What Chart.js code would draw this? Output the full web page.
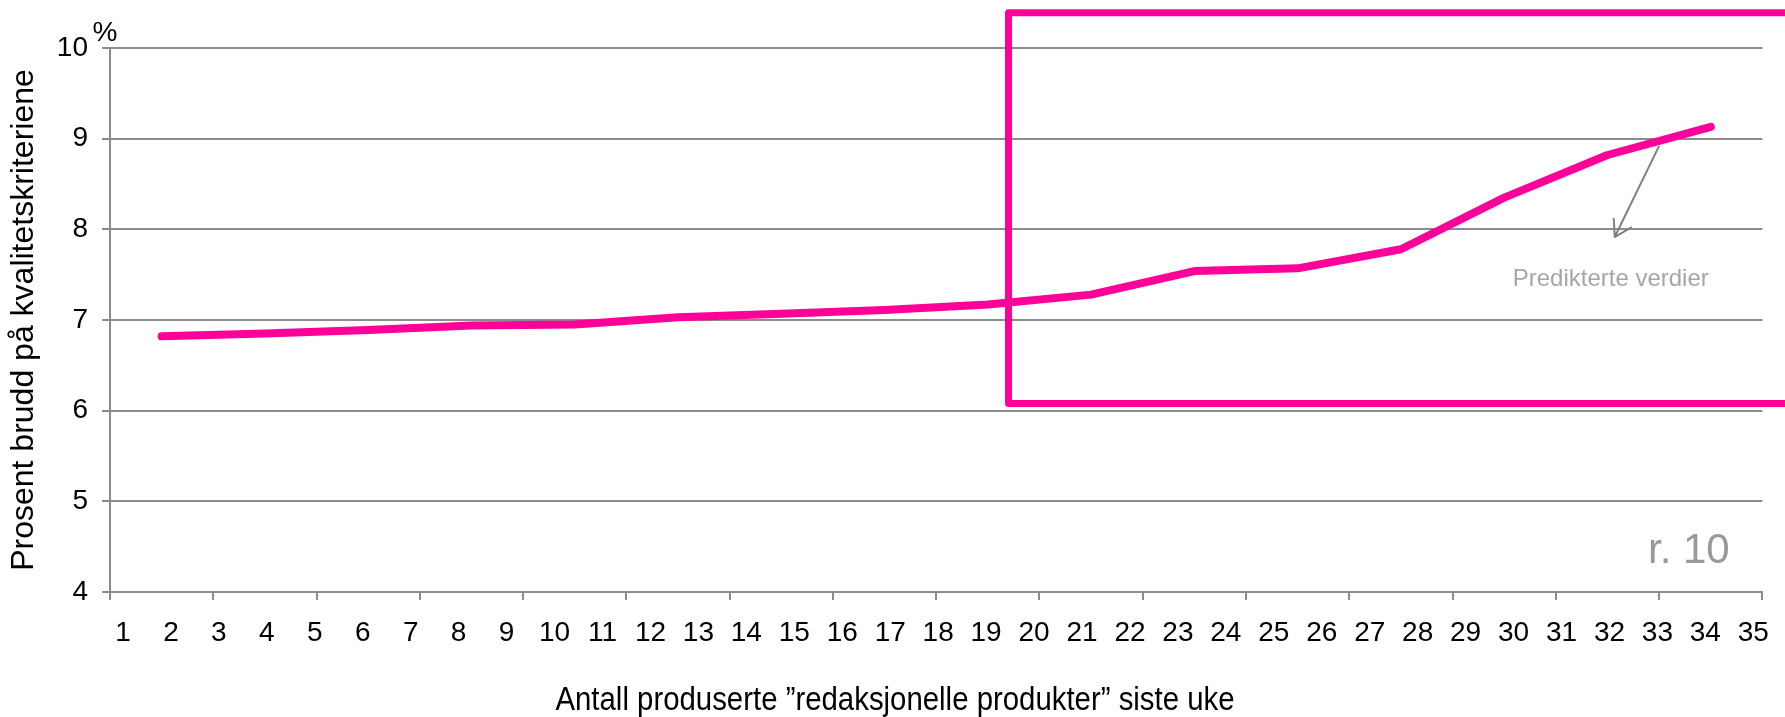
<!DOCTYPE html>
<html>
<head>
<meta charset="utf-8">
<script src="https://cdn.jsdelivr.net/npm/chart.js@4.4.1/dist/chart.umd.min.js"></script>
<style>
  html, body { margin: 0; padding: 0; background: #fff; }
  canvas { display: block; }
</style>
</head>
<body>
<canvas id="chart" width="1785" height="717"></canvas>
<script>
// 16 measured points, one per category slot on the axis
var points = ['1', '2', '3', '4', '5', '6', '7', '8', '9', '10', '11', '12', '13', '14', '15', '16'];
var brudd = [6.82, 6.85, 6.89, 6.94, 6.95, 7.03, 7.07, 7.11, 7.17, 7.28, 7.54, 7.57, 7.78, 8.35, 8.82, 9.13];
// labels printed under the axis
var xLabels = [1, 2, 3, 4, 5, 6, 7, 8, 9, 10, 11, 12, 13, 14, 15, 16, 17, 18, 19, 20,
               21, 22, 23, 24, 25, 26, 27, 28, 29, 30, 31, 32, 33, 34, 35];
var xTitle = 'Antall produserte \u201dredaksjonelle produkter\u201d siste uke';
var yTitle = 'Prosent brudd p\u00e5 kvalitetskriteriene';

var pink = '#ff0099';
var gridGrey = '#8c8c8c';
var font = 'Liberation Sans, Arial, sans-serif';

// box around the predicted part, in data units (category index / percent)
var boxFrom = 8.20, boxTop = 10.39, boxBottom = 6.08;

var notes = {
    id: 'notes',
    afterDatasetsDraw: function (chart) {
        var c = chart.ctx, x = chart.scales.x, y = chart.scales.y;
        c.save();
        // pink box
        c.strokeStyle = pink;
        c.lineWidth = 7;
        c.lineJoin = 'round';
        var bx = x.getPixelForValue(boxFrom);
        var by1 = y.getPixelForValue(boxTop), by2 = y.getPixelForValue(boxBottom);
        c.beginPath();
        c.moveTo(chart.width + 10, by1);
        c.lineTo(bx, by1);
        c.lineTo(bx, by2);
        c.lineTo(chart.width + 10, by2);
        c.stroke();

        // arrow to the label
        var ax1 = x.getPixelForValue(14.5), ay1 = y.getPixelForValue(8.92);
        var ax2 = x.getPixelForValue(14.07), ay2 = y.getPixelForValue(7.915);
        c.strokeStyle = '#808080';
        c.lineWidth = 2;
        c.beginPath();
        c.moveTo(ax1, ay1);
        c.lineTo(ax2, ay2);
        c.moveTo(ax2 - 1, ay2 - 19);
        c.lineTo(ax2, ay2);
        c.lineTo(ax2 + 17, ay2 - 10);
        c.stroke();

        c.fillStyle = '#a6a6a6';
        c.font = '24px ' + font;
        c.textAlign = 'center';
        c.textBaseline = 'middle';
        c.fillText('Predikterte verdier', ax2 - 4, ay2 + 42);

        c.fillStyle = '#999999';
        c.font = '42px ' + font;
        c.textAlign = 'left';
        c.textBaseline = 'alphabetic';
        c.fillText('r. 10', 1648, 563);

        c.fillStyle = '#000';
        c.font = '28px ' + font;
        c.textAlign = 'center';
        c.textBaseline = 'middle';
        c.fillText('%', 105, 33);

        // x title, slightly condensed like the original
        c.font = '33px ' + font;
        c.textBaseline = 'alphabetic';
        c.translate(895, 710);
        c.scale(0.89, 1);
        c.fillText(xTitle, 0, 0);
        c.restore();
    }
};

var ctx = document.getElementById('chart').getContext('2d');
var myChart = new Chart(ctx, {
    type: 'line',
    data: {
        labels: points,
        datasets: [{
            label: 'Brudd',
            data: brudd,
            borderColor: pink,
            borderWidth: 8,
            borderCapStyle: 'round',
            borderJoinStyle: 'round',
            pointRadius: 0,
            tension: 0,
            fill: false
        }]
    },
    options: {
        responsive: false,
        animation: false,
        devicePixelRatio: 1,
        layout: { padding: { top: 48, right: 20, left: 0, bottom: 0 } },
        plugins: { legend: { display: false }, tooltip: { enabled: false } },
        scales: {
            x: {
                type: 'category',
                offset: true,
                ticks: { display: false },
                grid: { offset: true, drawOnChartArea: false, drawTicks: true, tickLength: 8, color: gridGrey, lineWidth: 2 },
                border: { color: gridGrey, width: 2 },
                afterFit: function (s) { s.height = 8; }
            },
            x2: {
                type: 'linear',
                position: 'bottom',
                min: 0.729,
                max: 35.19,
                afterBuildTicks: function (s) {
                    s.ticks = xLabels.map(function (v) { return { value: v }; });
                },
                ticks: { autoSkip: false, maxRotation: 0, padding: 16, color: '#000', font: { family: font, size: 28 } },
                grid: { display: false, drawTicks: false },
                border: { display: false },
                afterFit: function (s) { s.height = 117; }
            },
            y: {
                min: 4,
                max: 10,
                ticks: { stepSize: 1, padding: 14, color: '#000', font: { family: font, size: 28 } },
                grid: { color: gridGrey, lineWidth: 2, tickLength: 8 },
                border: { color: gridGrey, width: 2 },
                title: {
                    display: true,
                    text: yTitle,
                    color: '#000',
                    font: { family: font, size: 32 },
                    padding: { top: 5, bottom: 0 }
                },
                afterFit: function (s) { s.width = 110; }
            }
        }
    },
    plugins: [notes]
});
</script>
</body>
</html>
